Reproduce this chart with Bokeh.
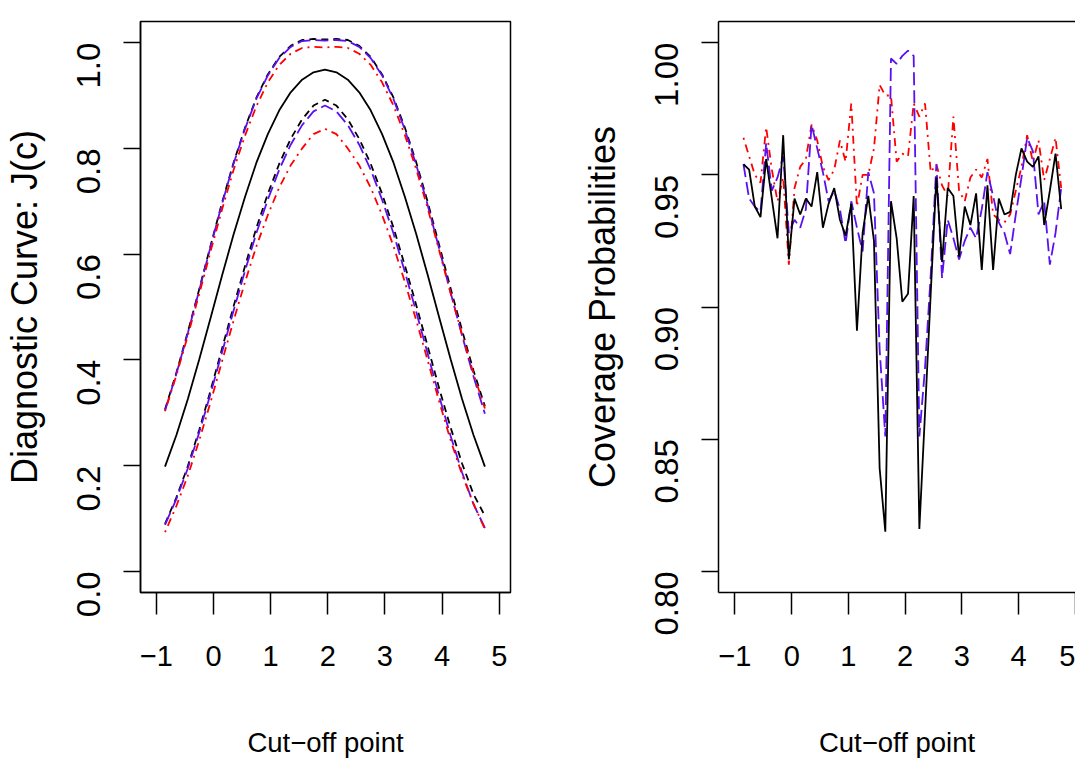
import math
from bokeh.plotting import figure
from bokeh.layouts import row
from bokeh.models import FixedTicker, Range1d, LinearAxis, NumeralTickFormatter
from bokeh.embed import file_html
from bokeh.resources import INLINE

FONT = "Liberation Sans"

# ---------------- data: left panel (diagnostic curve and bands) ----------------
cut_left = [-0.85, -0.65, -0.45, -0.25, -0.05, 0.15, 0.35, 0.55, 0.75, 0.95, 1.15, 1.35, 1.55, 1.75, 1.95,
            2.15, 2.35, 2.55, 2.75, 2.95, 3.15, 3.35, 3.55, 3.75, 3.95, 4.15, 4.35, 4.55, 4.75]
j_true = [0.198, 0.258, 0.326, 0.401, 0.480, 0.560, 0.637, 0.708, 0.773, 0.827, 0.872, 0.906, 0.930, 0.944, 0.949,
          0.944, 0.930, 0.906, 0.872, 0.827, 0.773, 0.708, 0.637, 0.560, 0.480, 0.401, 0.326, 0.258, 0.198]
black_upper = [0.306, 0.376, 0.453, 0.534, 0.617, 0.698, 0.773, 0.839, 0.896, 0.940, 0.973, 0.994, 1.005, 1.007, 1.006,
               1.007, 1.005, 0.994, 0.973, 0.940, 0.896, 0.839, 0.773, 0.698, 0.617, 0.535, 0.456, 0.380, 0.312]
black_lower = [0.090, 0.140, 0.199, 0.268, 0.343, 0.422, 0.501, 0.577, 0.650, 0.714, 0.771, 0.818, 0.855, 0.881, 0.892,
               0.881, 0.855, 0.818, 0.771, 0.714, 0.650, 0.578, 0.503, 0.425, 0.346, 0.272, 0.204, 0.146, 0.105]
blue_upper = [0.304, 0.374, 0.451, 0.532, 0.615, 0.696, 0.771, 0.837, 0.894, 0.938, 0.971, 0.992, 1.003, 1.005, 1.004,
              1.005, 1.003, 0.992, 0.971, 0.938, 0.893, 0.835, 0.768, 0.692, 0.610, 0.527, 0.446, 0.369, 0.298]
blue_lower = [0.088, 0.137, 0.195, 0.263, 0.337, 0.415, 0.493, 0.568, 0.640, 0.703, 0.760, 0.807, 0.844, 0.870, 0.881,
              0.870, 0.844, 0.807, 0.760, 0.703, 0.639, 0.566, 0.490, 0.411, 0.331, 0.256, 0.187, 0.127, 0.082]
red_upper = [0.303, 0.371, 0.446, 0.525, 0.606, 0.685, 0.759, 0.824, 0.880, 0.925, 0.958, 0.979, 0.990, 0.992, 0.991,
             0.992, 0.990, 0.979, 0.958, 0.925, 0.881, 0.825, 0.760, 0.686, 0.607, 0.526, 0.448, 0.374, 0.308]
red_lower = [0.074, 0.124, 0.181, 0.248, 0.321, 0.398, 0.474, 0.547, 0.615, 0.674, 0.726, 0.768, 0.800, 0.827, 0.837,
             0.827, 0.800, 0.768, 0.726, 0.674, 0.615, 0.547, 0.474, 0.398, 0.321, 0.248, 0.183, 0.128, 0.080]

# ---------------- data: right panel (coverage probabilities) ----------------
cut_right = [-0.85, -0.75, -0.65, -0.55, -0.45, -0.35, -0.25, -0.15, -0.05, 0.05,
             0.15, 0.25, 0.35, 0.45, 0.55, 0.65, 0.75, 0.85, 0.95, 1.05,
             1.15, 1.25, 1.35, 1.45, 1.55, 1.65, 1.75, 1.85, 1.95, 2.05,
             2.15, 2.25, 2.35, 2.45, 2.55, 2.65, 2.75, 2.85, 2.95, 3.05,
             3.15, 3.25, 3.35, 3.45, 3.55, 3.65, 3.75, 3.85, 3.95, 4.05,
             4.15, 4.25, 4.35, 4.45, 4.55, 4.65, 4.75]
cov_black = [0.954, 0.952, 0.938, 0.934, 0.956, 0.941, 0.926, 0.965, 0.918, 0.941,
             0.935, 0.941, 0.938, 0.951, 0.930, 0.939, 0.945, 0.933, 0.927, 0.939,
             0.891, 0.928, 0.942, 0.925, 0.839, 0.815, 0.940, 0.926, 0.902, 0.905,
             0.942, 0.816, 0.860, 0.905, 0.949, 0.917, 0.945, 0.942, 0.919, 0.938,
             0.931, 0.943, 0.914, 0.946, 0.914, 0.941, 0.935, 0.936, 0.950, 0.960,
             0.955, 0.953, 0.957, 0.931, 0.944, 0.958, 0.937]
cov_blue = [0.954, 0.941, 0.938, 0.936, 0.962, 0.944, 0.949, 0.957, 0.928, 0.933,
            0.930, 0.937, 0.969, 0.960, 0.951, 0.940, 0.944, 0.937, 0.924, 0.940,
            0.930, 0.921, 0.951, 0.943, 0.884, 0.851, 0.994, 0.992, 0.995, 0.997,
            0.995, 0.851, 0.877, 0.912, 0.954, 0.911, 0.933, 0.926, 0.918, 0.925,
            0.930, 0.926, 0.937, 0.951, 0.942, 0.932, 0.928, 0.920, 0.935, 0.949,
            0.964, 0.959, 0.935, 0.940, 0.916, 0.928, 0.945]
cov_red = [0.964, 0.957, 0.950, 0.947, 0.968, 0.952, 0.940, 0.949, 0.916, 0.945,
           0.953, 0.956, 0.969, 0.963, 0.953, 0.948, 0.952, 0.963, 0.955, 0.977,
           0.938, 0.950, 0.950, 0.960, 0.984, 0.980, 0.980, 0.955, 0.958, 0.957,
           0.977, 0.972, 0.977, 0.951, 0.954, 0.946, 0.942, 0.972, 0.944, 0.940,
           0.949, 0.952, 0.949, 0.956, 0.935, 0.933, 0.932, 0.935, 0.944, 0.953,
           0.965, 0.955, 0.963, 0.948, 0.956, 0.964, 0.945]

x_ticks = [-1, 0, 1, 2, 3, 4, 5]
y_ticks_left = [0.0, 0.2, 0.4, 0.6, 0.8, 1.0]
y_ticks_right = [0.80, 0.85, 0.90, 0.95, 1.00]

BLUE = "#5B10F0"
RED = "#FF0000"
LW = 1.8


def style(p, yticks, yfmt, ylabel):
    p.grid.visible = False
    p.background_fill_color = "white"
    p.border_fill_color = "white"
    p.xaxis.ticker = FixedTicker(ticks=x_ticks)
    p.xaxis.major_label_overrides = {-1: "\u22121"}
    p.yaxis.ticker = FixedTicker(ticks=yticks)
    p.yaxis.formatter = NumeralTickFormatter(format=yfmt)
    for ax in p.xaxis + p.yaxis:
        ax.minor_tick_line_color = None
        ax.major_tick_in = 0
        ax.major_tick_line_color = "black"
        ax.major_tick_line_width = 1.5
        ax.axis_line_color = "black"
        ax.axis_line_width = 1.5
        ax.major_label_text_font = FONT
        ax.major_label_text_color = "black"
        ax.axis_label_text_font = FONT
        ax.axis_label_text_color = "black"
        ax.axis_label_text_font_style = "normal"
    p.xaxis.major_tick_out = 22
    p.yaxis.major_tick_out = 17
    p.xaxis.major_label_text_font_size = "29px"
    p.yaxis.major_label_text_font_size = "33px"
    p.yaxis.major_label_orientation = math.pi / 2
    p.xaxis.major_label_standoff = 31
    p.yaxis.major_label_standoff = 35
    p.xaxis.axis_label = "Cut\u2212off point"
    p.xaxis.axis_label_text_font_size = "27.5px"
    p.xaxis.axis_label_standoff = 58
    p.yaxis.axis_label = ylabel
    p.yaxis.axis_label_text_font_size = "36px"
    p.yaxis.axis_label_standoff = 18


p1 = figure(width=578, height=766, x_range=Range1d(-1.279, 5.198), y_range=Range1d(-0.04, 1.04),
            output_backend="svg", toolbar_location=None,
            min_border_left=139, min_border_right=68, min_border_top=21, min_border_bottom=174)
style(p1, y_ticks_left, "0.0", "Diagnostic Curve: J(c)")
p1.outline_line_color = "black"
p1.outline_line_width = 1.5

p1.line(cut_left, j_true, line_color="black", line_width=LW)
p1.line(cut_left, black_upper, line_color="black", line_width=LW, line_dash="7 5")
p1.line(cut_left, black_lower, line_color="black", line_width=LW, line_dash="7 5")
p1.line(cut_left, blue_upper, line_color=BLUE, line_width=LW, line_dash="13 5")
p1.line(cut_left, blue_lower, line_color=BLUE, line_width=LW, line_dash="13 5")
p1.line(cut_left, red_upper, line_color=RED, line_width=LW, line_dash="2 5 8 5")
p1.line(cut_left, red_lower, line_color=RED, line_width=LW, line_dash="2 5 8 5")

p2 = figure(width=497, height=766, x_range=Range1d(-1.29, 5.002), y_range=Range1d(0.792, 1.008),
            output_backend="svg", toolbar_location=None,
            min_border_left=136, min_border_right=0, min_border_top=21, min_border_bottom=174)
style(p2, y_ticks_right, "0.00", "Coverage Probabilities")
p2.outline_line_color = None
top_axis = LinearAxis(ticker=FixedTicker(ticks=[]), axis_line_color="black", axis_line_width=1.5,
                      major_label_text_font_size="0px", major_tick_line_color=None,
                      minor_tick_line_color=None)
p2.add_layout(top_axis, "above")

p2.line(cut_right, cov_red, line_color=RED, line_width=LW, line_dash="2 5 8 5")
p2.line(cut_right, cov_blue, line_color=BLUE, line_width=LW, line_dash="13 5")
p2.line(cut_right, cov_black, line_color="black", line_width=LW)

layout = row(p1, p2)
open("out.html", "w").write(file_html(layout, INLINE))
